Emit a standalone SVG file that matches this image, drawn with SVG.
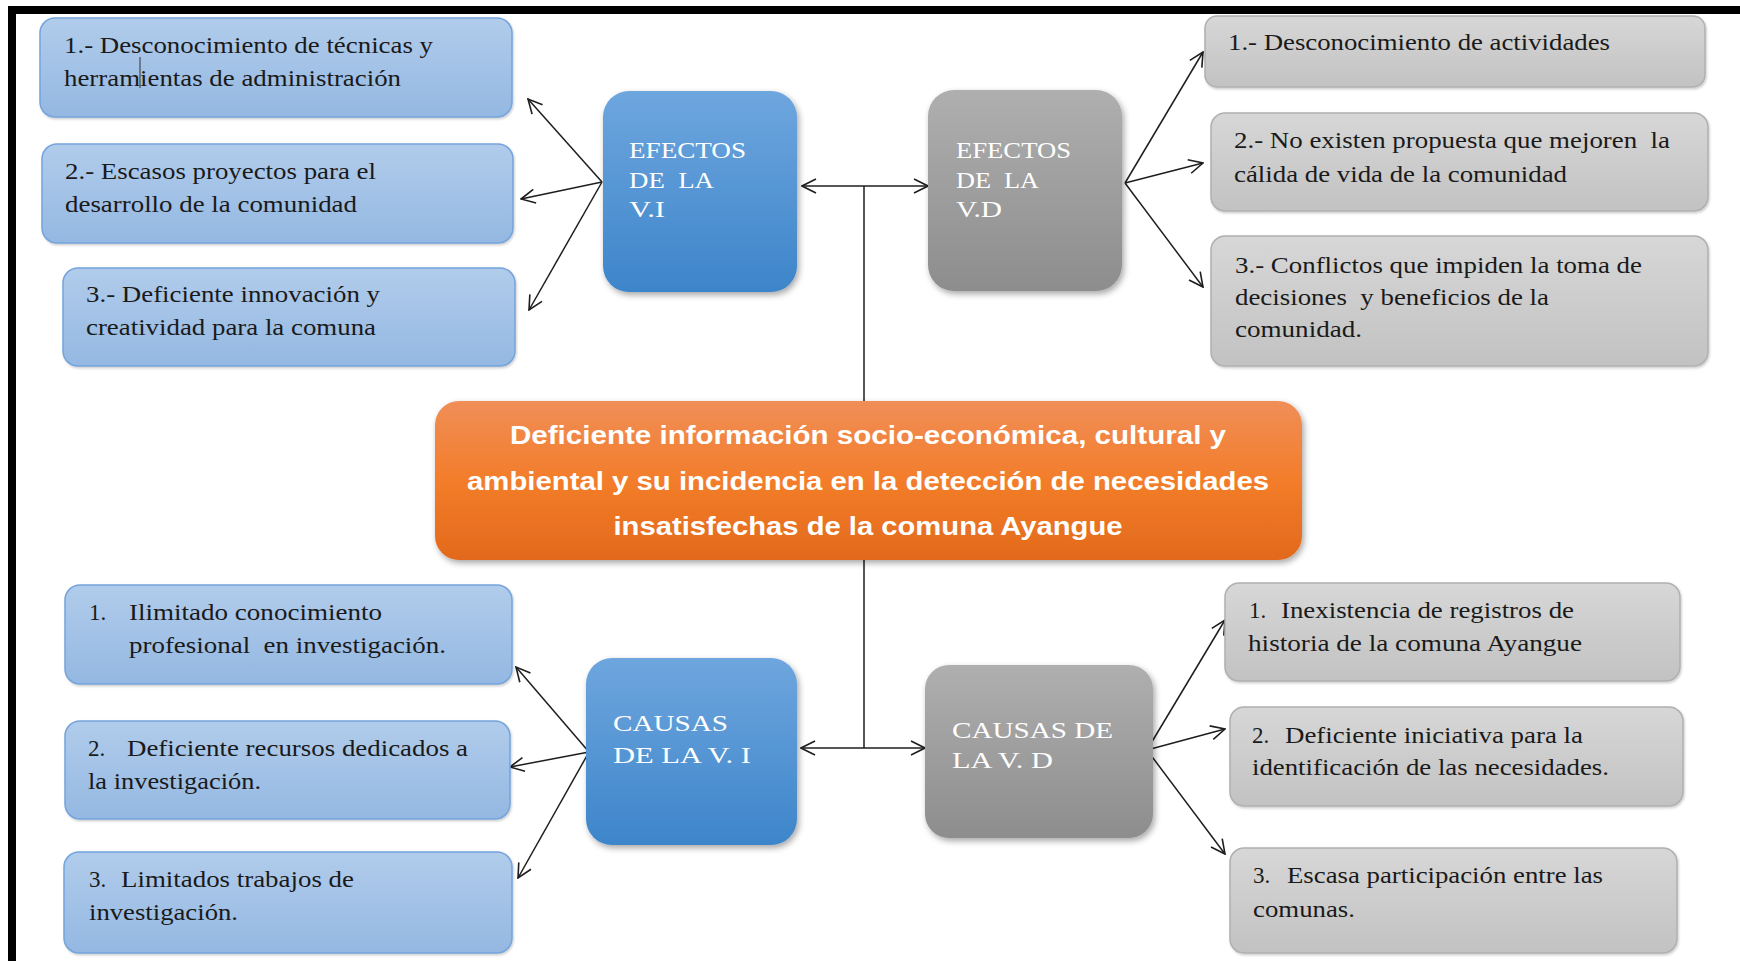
<svg xmlns="http://www.w3.org/2000/svg" width="1740" height="961" viewBox="0 0 1740 961">
<defs>
<linearGradient id="gLB" x1="0" y1="0" x2="0" y2="1"><stop offset="0" stop-color="#b1cceb"/><stop offset="1" stop-color="#94b8e2"/></linearGradient>
<linearGradient id="gB" x1="0" y1="0" x2="0" y2="1"><stop offset="0" stop-color="#6ea6de"/><stop offset="1" stop-color="#3d85ca"/></linearGradient>
<linearGradient id="gG" x1="0" y1="0" x2="0" y2="1"><stop offset="0" stop-color="#afafaf"/><stop offset="1" stop-color="#8d8d8d"/></linearGradient>
<linearGradient id="gLG" x1="0" y1="0" x2="0" y2="1"><stop offset="0" stop-color="#d7d7d7"/><stop offset="1" stop-color="#c2c2c2"/></linearGradient>
<linearGradient id="gO" x1="0" y1="0" x2="0" y2="1"><stop offset="0" stop-color="#f08e58"/><stop offset="0.5" stop-color="#f37d2a"/><stop offset="1" stop-color="#e2691b"/></linearGradient>
<filter id="sh" x="-10%" y="-10%" width="125%" height="125%"><feDropShadow dx="2" dy="3" stdDeviation="3" flood-color="#000" flood-opacity="0.35"/></filter>
<filter id="sh2" x="-5%" y="-5%" width="112%" height="115%"><feDropShadow dx="1" dy="1.5" stdDeviation="1.2" flood-color="#000" flood-opacity="0.2"/></filter>
<marker id="ah" viewBox="0 0 16 16" refX="15" refY="8" markerWidth="16" markerHeight="16" markerUnits="userSpaceOnUse" orient="auto-start-reverse">
<path d="M1,1 L15,8 L1,15" fill="none" stroke="#1e1e1e" stroke-width="1.6"/>
</marker>
</defs>
<style>
.lb{fill:url(#gLB);stroke:#74a4dc;stroke-width:1.5;filter:url(#sh2)}
.lg{fill:url(#gLG);stroke:#b0b0b0;stroke-width:1.5;filter:url(#sh2)}
.mb{fill:url(#gB);filter:url(#sh)}
.mg{fill:url(#gG);filter:url(#sh)}
.mo{fill:url(#gO);filter:url(#sh)}
.t{font-family:"Liberation Serif","Times New Roman",serif;font-size:23px;fill:#1a1a1a;white-space:pre}
.w{font-family:"Liberation Serif","Times New Roman",serif;font-size:24px;fill:#ffffff;white-space:pre}
.c{font-family:"Liberation Sans",Arial,sans-serif;font-weight:bold;font-size:26px;fill:#ffffff;text-anchor:middle}
.ln{fill:none;stroke:#1e1e1e;stroke-width:1.5}
.ar{fill:none;stroke:#1e1e1e;stroke-width:1.5;marker-end:url(#ah)}
.ar2{fill:none;stroke:#1e1e1e;stroke-width:1.5;marker-start:url(#ah);marker-end:url(#ah)}
</style>
<rect x="0" y="0" width="1740" height="961" fill="#ffffff"/>
<g id="frame">
<rect x="8" y="6" width="1732" height="8" fill="#000"/>
<rect x="8" y="6" width="8" height="955" fill="#000"/>
</g>

<g id="connectors">
<path class="ln" d="M864,186 V401 M864,560 V748"/>
<path class="ar2" d="M802,186 H928"/>
<path class="ar2" d="M801,748 H925"/>
<path class="ar" d="M602,182 L528,99"/>
<path class="ar" d="M602,182 L521,199"/>
<path class="ar" d="M602,182 L529,310"/>
<path class="ar" d="M1125,183 L1203,52"/>
<path class="ar" d="M1125,183 L1203,163"/>
<path class="ar" d="M1125,183 L1203,287"/>
<path class="ar" d="M589,752 L516,667"/>
<path class="ar" d="M589,752 L510,767"/>
<path class="ar" d="M589,752 L518,878"/>
<path class="ar" d="M1147,750 L1225,620"/>
<path class="ar" d="M1147,750 L1225,729"/>
<path class="ar" d="M1147,750 L1225,854"/>
</g>

<g id="evi1">
<rect class="lb" x="40" y="18" width="472" height="99" rx="15"/>
<text class="t" x="64" y="53" textLength="369" lengthAdjust="spacingAndGlyphs">1.- Desconocimiento de técnicas y</text>
<text class="t" x="64" y="86" textLength="337" lengthAdjust="spacingAndGlyphs">herramientas de administración</text>
<line x1="140" y1="57" x2="140" y2="88" stroke="#333" stroke-width="1"/>
</g>
<g id="evi2">
<rect class="lb" x="42" y="144" width="471" height="99" rx="15"/>
<text class="t" x="65" y="179" textLength="311" lengthAdjust="spacingAndGlyphs">2.- Escasos proyectos para el</text>
<text class="t" x="65" y="212" textLength="292" lengthAdjust="spacingAndGlyphs">desarrollo de la comunidad</text>
</g>
<g id="evi3">
<rect class="lb" x="63" y="268" width="452" height="98" rx="15"/>
<text class="t" x="86" y="302" textLength="294" lengthAdjust="spacingAndGlyphs">3.- Deficiente innovación y</text>
<text class="t" x="86" y="335" textLength="290" lengthAdjust="spacingAndGlyphs">creatividad para la comuna</text>
</g>
<g id="evi">
<rect class="mb" x="603" y="91" width="194" height="201" rx="26"/>
<text class="w" x="629" y="158" textLength="117" lengthAdjust="spacingAndGlyphs">EFECTOS</text>
<text class="w" x="629" y="188" textLength="85" lengthAdjust="spacingAndGlyphs">DE  LA</text>
<text class="w" x="629" y="217" textLength="36" lengthAdjust="spacingAndGlyphs">V.I</text>
</g>

<g id="evd">
<rect class="mg" x="928" y="90" width="194" height="201" rx="26"/>
<text class="w" x="956" y="158" textLength="115" lengthAdjust="spacingAndGlyphs">EFECTOS</text>
<text class="w" x="956" y="188" textLength="83" lengthAdjust="spacingAndGlyphs">DE  LA</text>
<text class="w" x="956" y="217" textLength="46" lengthAdjust="spacingAndGlyphs">V.D</text>
</g>
<g id="evd1">
<rect class="lg" x="1205" y="16" width="500" height="71" rx="12"/>
<text class="t" x="1228" y="50" textLength="382" lengthAdjust="spacingAndGlyphs">1.- Desconocimiento de actividades</text>
</g>
<g id="evd2">
<rect class="lg" x="1211" y="113" width="497" height="98" rx="14"/>
<text class="t" x="1234" y="148" textLength="436" lengthAdjust="spacingAndGlyphs">2.- No existen propuesta que mejoren  la</text>
<text class="t" x="1234" y="182" textLength="333" lengthAdjust="spacingAndGlyphs">cálida de vida de la comunidad</text>
</g>
<g id="evd3">
<rect class="lg" x="1211" y="236" width="497" height="130" rx="14"/>
<text class="t" x="1235" y="273" textLength="407" lengthAdjust="spacingAndGlyphs">3.- Conflictos que impiden la toma de</text>
<text class="t" x="1235" y="305" textLength="314" lengthAdjust="spacingAndGlyphs">decisiones  y beneficios de la</text>
<text class="t" x="1235" y="337" textLength="127" lengthAdjust="spacingAndGlyphs">comunidad.</text>
</g>

<g id="central">
<rect class="mo" x="435" y="401" width="867" height="159" rx="24"/>
<text class="c" x="868" y="444" textLength="716" lengthAdjust="spacingAndGlyphs">Deficiente información socio-económica, cultural y</text>
<text class="c" x="868" y="490" textLength="802" lengthAdjust="spacingAndGlyphs">ambiental y su incidencia en la detección de necesidades</text>
<text class="c" x="868" y="535" textLength="509" lengthAdjust="spacingAndGlyphs">insatisfechas de la comuna Ayangue</text>
</g>

<g id="cvi1">
<rect class="lb" x="65" y="585" width="447" height="99" rx="15"/>
<text class="t" x="89" y="620">1.</text>
<text class="t" x="129" y="620" textLength="253" lengthAdjust="spacingAndGlyphs">Ilimitado conocimiento</text>
<text class="t" x="129" y="653" textLength="317" lengthAdjust="spacingAndGlyphs">profesional  en investigación.</text>
</g>
<g id="cvi2">
<rect class="lb" x="65" y="721" width="445" height="98" rx="15"/>
<text class="t" x="88" y="756">2.</text>
<text class="t" x="127" y="756" textLength="341" lengthAdjust="spacingAndGlyphs">Deficiente recursos dedicados a</text>
<text class="t" x="88" y="789" textLength="173" lengthAdjust="spacingAndGlyphs">la investigación.</text>
</g>
<g id="cvi3">
<rect class="lb" x="64" y="852" width="448" height="101" rx="15"/>
<text class="t" x="89" y="887">3.</text>
<text class="t" x="121" y="887" textLength="233" lengthAdjust="spacingAndGlyphs">Limitados trabajos de</text>
<text class="t" x="89" y="920" textLength="149" lengthAdjust="spacingAndGlyphs">investigación.</text>
</g>
<g id="cvi">
<rect class="mb" x="586" y="658" width="211" height="187" rx="26"/>
<text class="w" x="613" y="731" textLength="115" lengthAdjust="spacingAndGlyphs">CAUSAS</text>
<text class="w" x="613" y="763" textLength="138" lengthAdjust="spacingAndGlyphs">DE LA V. I</text>
</g>

<g id="cvd">
<rect class="mg" x="925" y="665" width="228" height="173" rx="24"/>
<text class="w" x="952" y="738" textLength="161" lengthAdjust="spacingAndGlyphs">CAUSAS DE</text>
<text class="w" x="952" y="768" textLength="101" lengthAdjust="spacingAndGlyphs">LA V. D</text>
</g>
<g id="cvd1">
<rect class="lg" x="1225" y="583" width="455" height="98" rx="14"/>
<text class="t" x="1249" y="618">1.</text>
<text class="t" x="1281" y="618" textLength="293" lengthAdjust="spacingAndGlyphs">Inexistencia de registros de</text>
<text class="t" x="1248" y="651" textLength="334" lengthAdjust="spacingAndGlyphs">historia de la comuna Ayangue</text>
</g>
<g id="cvd2">
<rect class="lg" x="1230" y="707" width="453" height="99" rx="14"/>
<text class="t" x="1252" y="743">2.</text>
<text class="t" x="1285" y="743" textLength="298" lengthAdjust="spacingAndGlyphs">Deficiente iniciativa para la</text>
<text class="t" x="1252" y="775" textLength="357" lengthAdjust="spacingAndGlyphs">identificación de las necesidades.</text>
</g>
<g id="cvd3">
<rect class="lg" x="1230" y="848" width="447" height="105" rx="14"/>
<text class="t" x="1253" y="883">3.</text>
<text class="t" x="1287" y="883" textLength="316" lengthAdjust="spacingAndGlyphs">Escasa participación entre las</text>
<text class="t" x="1253" y="917" textLength="102" lengthAdjust="spacingAndGlyphs">comunas.</text>
</g>
</svg>
